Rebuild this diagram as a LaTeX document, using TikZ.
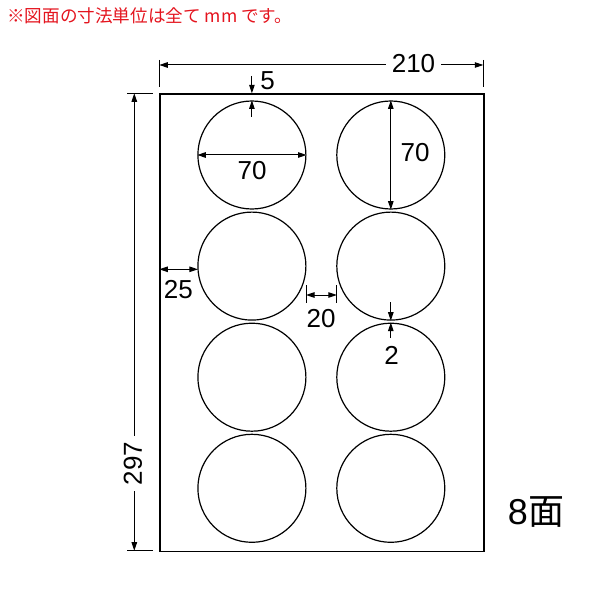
\documentclass[tikz,border=0pt]{standalone}
\usepackage{fontspec}
\setmainfont{Liberation Sans}
\newfontfamily\cjkfont{Noto Sans CJK JP}
\usetikzlibrary{arrows.meta}
\definecolor{notered}{RGB}{228,20,30}
\begin{document}
\begin{tikzpicture}[x=1pt,y=-1pt,
  >={Triangle[length=8.5pt,width=5.5pt]},
  sheetbox/.style={draw,line width=1.4pt,inner sep=0pt,anchor=north west,minimum width=324pt,minimum height=457.4pt},
  label/.style={circle,draw,line width=1.2pt,inner sep=0pt,minimum size=108pt},
  dimline/.style={line width=1pt},
  dimtext/.style={font=\fontsize{26}{26}\selectfont,inner sep=0pt},
  gaptext/.style={font=\fontsize{26}{26}\selectfont,inner sep=6pt}]
\useasboundingbox (0,0) rectangle (601,601);
% note
\node[anchor=west,inner sep=0pt,text=notered,font=\cjkfont\fontsize{17.6}{17.6}\selectfont] (note) at (7,15.5) {※図面の寸法単位は全て mm です。};
% sheet
\node[sheetbox] (sheet) at (159.3,93.3) {};
% circles
\foreach \r/\y in {1/155,2/266.1,3/377.2,4/488.3}{
  \node[label] (c\r1) at (251.9,\y) {};
  \node[label] (c\r2) at (390.8,\y) {};
}
% 210
\coordinate (tl1) at (159.3,60); \coordinate (tl2) at (159.3,87);
\coordinate (tr1) at (483.3,60); \coordinate (tr2) at (483.3,87);
\draw[dimline] (tl1) -- (tl2);
\draw[dimline] (tr1) -- (tr2);
\coordinate (dl) at (159.3,65); \coordinate (dr) at (483.3,65);
\node[gaptext] (t210) at (413.5,63.5) {210};
\draw[dimline,->] (t210.west |- dl) -- (dl);
\draw[dimline,->] (t210.east |- dr) -- (dr);
% 297
\coordinate (lt1) at (127.3,93.3); \coordinate (lt2) at (152.7,93.3);
\coordinate (lb1) at (127.3,550.7); \coordinate (lb2) at (152.7,550.7);
\draw[dimline] (lt1) -- (lt2);
\draw[dimline] (lb1) -- (lb2);
\coordinate (vt) at (134.3,93.3); \coordinate (vb) at (134.3,550.7);
\node[gaptext,rotate=90] (t297) at (133,463.5) {297};
\draw[dimline,->] (t297.east -| vt) -- (vt);
\draw[dimline,->] (t297.west -| vb) -- (vb);
% 5
\coordinate (f1) at (251.9,76); \coordinate (f2) at (251.9,93.3);
\coordinate (f3) at (251.9,117);
\draw[dimline,->] (f1) -- (f2);
\draw[dimline,->] (f3) -- (c11.north);
\node[dimtext] (t5) at (267.5,81) {5};
% 70 horizontal
\draw[dimline,<->] (c11.west) -- (c11.east);
\node[dimtext] (t70a) at (252,171) {70};
% 70 vertical
\draw[dimline,<->] (c12.north) -- (c12.south);
\node[dimtext] (t70b) at (415,153) {70};
% 25
\coordinate (m1) at (159.3,269.3); \coordinate (m2) at (197.9,269.3);
\draw[dimline,<->] (m1) -- (m2);
\node[dimtext] (t25) at (178.3,290) {25};
% 20
\coordinate (g1a) at (306,285); \coordinate (g1b) at (306,302.7);
\coordinate (g2a) at (336.8,285); \coordinate (g2b) at (336.8,302.7);
\draw[dimline] (g1a) -- (g1b);
\draw[dimline] (g2a) -- (g2b);
\coordinate (g1) at (306,295); \coordinate (g2) at (336.8,295);
\draw[dimline,<->] (g1) -- (g2);
\node[dimtext] (t20) at (321,318.3) {20};
% 2
\coordinate (h1) at (390.8,302); \coordinate (h2) at (390.8,338);
\draw[dimline,->] (h1) -- (c22.south);
\draw[dimline,->] (h2) -- (c32.north);
\node[dimtext] (t2) at (391.5,355) {2};
% 8面
\node[inner sep=0pt,font=\fontsize{36}{36}\selectfont] (count) at (536,512.5) {8\cjkfont 面};
\end{tikzpicture}
\end{document}
